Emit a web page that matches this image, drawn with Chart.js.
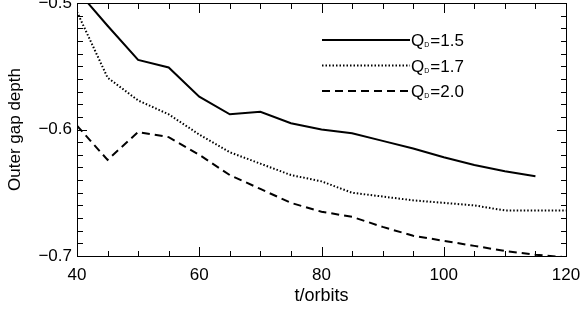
<!DOCTYPE html>
<html>
<head>
<meta charset="utf-8">
<script src="https://cdn.jsdelivr.net/npm/chart.js@4"></script>
<style>
  html, body { margin: 0; padding: 0; background: #fff; }
  #wrap { position: relative; width: 586px; height: 310px; }
  #wrap canvas { position: absolute; left: 0; top: 0; }
  #frame { pointer-events: none; }
</style>
</head>
<body>
<div id="wrap">
  <canvas id="chart" width="586" height="310"></canvas>
  <canvas id="frame" width="586" height="310"></canvas>
</div>
<script>
// values
const orbits = [40, 45, 50, 55, 60, 65, 70, 75, 80, 85, 90, 95, 100, 105, 110, 115, 120];
const depthQ15 = [-0.49, -0.518, -0.545, -0.551, -0.574, -0.588, -0.586, -0.595, -0.600, -0.603, -0.609, -0.615, -0.622, -0.628, -0.633, -0.637, null];
const depthQ17 = [-0.507, -0.559, -0.577, -0.588, -0.604, -0.618, -0.627, -0.636, -0.641, -0.650, -0.653, -0.656, -0.658, -0.660, -0.664, -0.664, -0.664];
const depthQ20 = [-0.597, -0.624, -0.602, -0.606, -0.620, -0.636, -0.647, -0.658, -0.665, -0.669, -0.677, -0.684, -0.688, -0.692, -0.696, -0.699, -0.701];
const qValues = ['1.5', '1.7', '2.0'];
const yTickValues = [-0.5, -0.6, -0.7];
const xTickValues = [40, 60, 80, 100, 120];

const FONT = 'Liberation Sans, Arial, Helvetica, sans-serif';

function toPoints(ys) {
    return orbits.map((t, i) => ({ x: t, y: ys[i] }));
}

// box + inward ticks on an overlay canvas, positions from the chart scales
function drawFrame(chart) {
    const xs = chart.scales.x, ys = chart.scales.y;
    const c = document.getElementById('frame').getContext('2d');
    c.clearRect(0, 0, 586, 310);
    const L = Math.round(xs.getPixelForValue(40));
    const R = Math.round(xs.getPixelForValue(120));
    const T = Math.round(ys.getPixelForValue(-0.5));
    const B = Math.round(ys.getPixelForValue(-0.7));
    c.fillStyle = '#000';
    c.fillRect(L, T, R - L + 1, 1);
    c.fillRect(L, B, R - L + 1, 1);
    c.fillRect(L, T, 1, B - T + 1);
    c.fillRect(R, T, 1, B - T + 1);
    for (let t = 40; t <= 120; t += 5) {
        const px = Math.round(xs.getPixelForValue(t));
        const len = t % 20 === 0 ? 9 : 5;
        c.fillRect(px, B - len, 1, len);
        c.fillRect(px, T + 1, 1, len);
    }
    for (let k = 0; k <= 20; k++) {
        const py = Math.round(ys.getPixelForValue(-0.7 + k * 0.01));
        const len = k % 10 === 0 ? 9 : 5;
        c.fillRect(L + 1, py, len, 1);
        c.fillRect(R - len, py, len, 1);
    }
}

// legend with subscript D, drawn on the chart canvas
function drawLegend(chart) {
    const c = chart.ctx;
    const x0 = 322, x1 = 410, y0 = 40, dy = 25.5;
    c.save();
    chart.data.datasets.forEach((ds, i) => {
        const y = y0 + i * dy;
        c.strokeStyle = '#000';
        c.lineWidth = ds.borderWidth;
        c.setLineDash(ds.borderDash || []);
        c.beginPath();
        c.moveTo(x0, y); c.lineTo(x1, y);
        c.stroke();
        c.setLineDash([]);
        c.fillStyle = '#000';
        c.textBaseline = 'alphabetic';
        c.font = '17px ' + FONT;
        let x = x1 + 1;
        c.fillText('Q', x, y + 6);
        x += c.measureText('Q').width;
        c.font = '7px ' + FONT;
        c.fillText('D', x, y + 7);
        x += c.measureText('D').width + 1;
        c.font = '17px ' + FONT;
        c.fillText('=' + qValues[i], x, y + 6);
    });
    c.restore();
}

const idlDecor = {
    id: 'idlDecor',
    afterDraw(chart) {
        drawLegend(chart);
        drawFrame(chart);
    }
};

const chart = new Chart(document.getElementById('chart'), {
    type: 'line',
    data: {
        datasets: [{
            data: toPoints(depthQ15),
            borderColor: '#000',
            borderWidth: 2,
            borderDash: [],
            pointRadius: 0,
            tension: 0,
            fill: false
        }, {
            data: toPoints(depthQ17),
            borderColor: '#000',
            borderWidth: 2,
            borderDash: [1.5, 2],
            pointRadius: 0,
            tension: 0,
            fill: false
        }, {
            data: toPoints(depthQ20),
            borderColor: '#000',
            borderWidth: 2,
            borderDash: [8, 5],
            pointRadius: 0,
            tension: 0,
            fill: false
        }]
    },
    options: {
        responsive: false,
        animation: false,
        events: [],
        layout: { padding: { top: 3, right: 20, left: 0, bottom: 0 } },
        plugins: {
            legend: { display: false },
            tooltip: { enabled: false }
        },
        scales: {
            x: {
                type: 'linear',
                min: 40,
                max: 120,
                grid: { display: false, drawTicks: false },
                border: { display: true, color: '#000', width: 1 },
                afterBuildTicks: s => { s.ticks = xTickValues.map(v => ({ value: v })); },
                ticks: {
                    color: '#000',
                    font: { family: FONT, size: 17 },
                    padding: 9,
                    maxRotation: 0,
                    callback: v => String(v)
                },
                title: {
                    display: true,
                    text: 't/orbits',
                    color: '#000',
                    font: { family: FONT, size: 18 },
                    padding: { top: 0, bottom: 3 }
                },
                afterFit: s => {
                    s.height = 54;
                    s.paddingLeft = 0; s.paddingRight = 0;
                }
            },
            y: {
                min: -0.7,
                max: -0.5,
                grid: { display: false, drawTicks: false },
                border: { display: true, color: '#000', width: 1 },
                afterBuildTicks: s => { s.ticks = yTickValues.map(v => ({ value: v })); },
                ticks: {
                    color: '#000',
                    font: { family: FONT, size: 17 },
                    padding: 5,
                    callback: v => v.toFixed(1).replace('-', '\u2212')
                },
                title: {
                    display: true,
                    text: 'Outer gap depth',
                    color: '#000',
                    font: { family: FONT, size: 17 },
                    padding: { top: 5, bottom: 0 }
                },
                afterFit: s => {
                    s.width = 77;
                    s.paddingTop = 0; s.paddingBottom = 0;
                }
            }
        }
    },
    plugins: [idlDecor]
});
drawFrame(chart);
</script>
</body>
</html>
